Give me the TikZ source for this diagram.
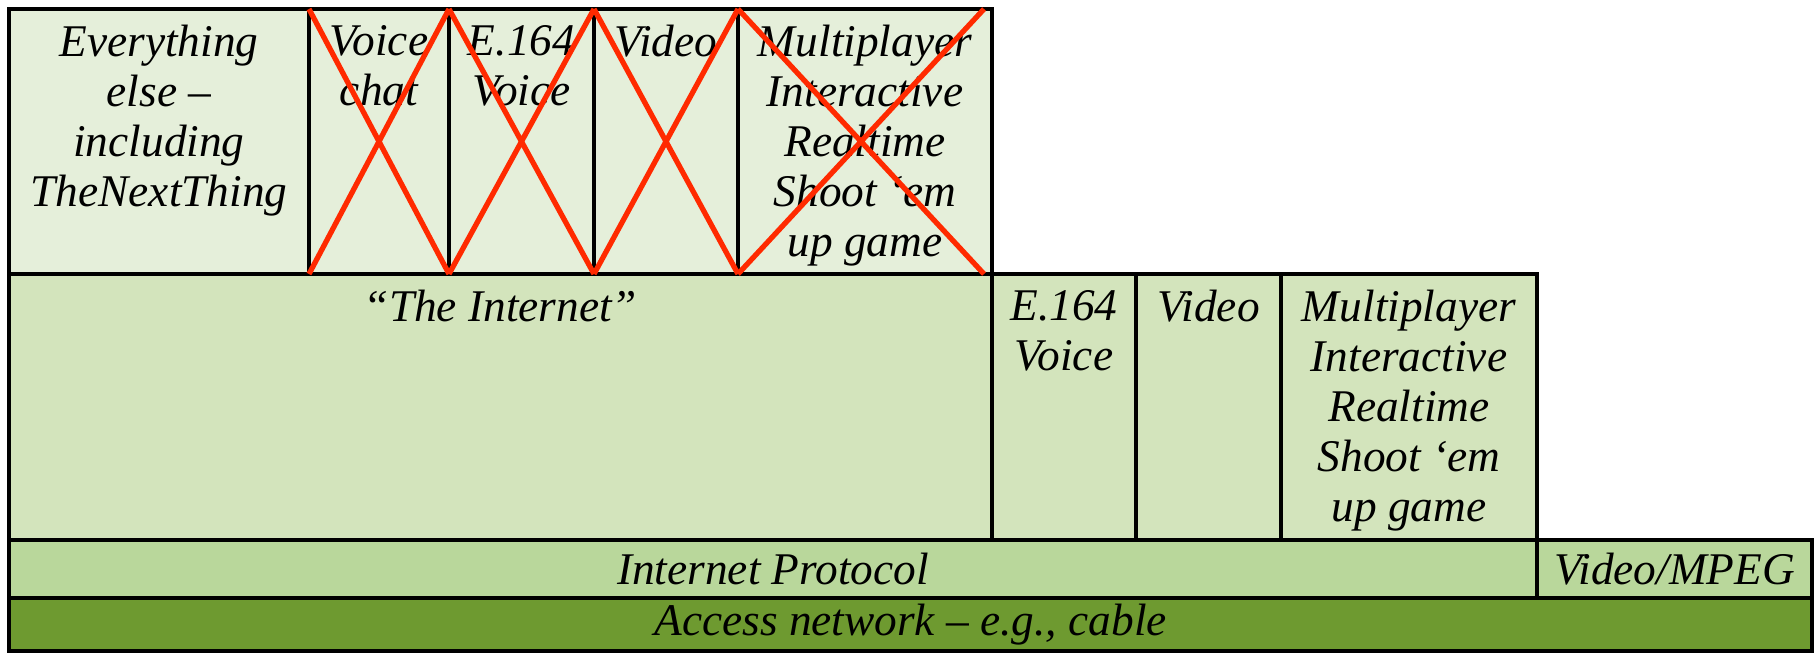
\documentclass[tikz,border=0pt]{standalone}
\usepackage{fontspec}
\setmainfont{Liberation Serif}
\usetikzlibrary{positioning}
\definecolor{rowtop}{HTML}{E5EFDA}
\definecolor{rowmid}{HTML}{D3E4BC}
\definecolor{rowip}{HTML}{B9D79B}
\definecolor{rowacc}{HTML}{6E9A30}
\definecolor{xred}{HTML}{FF2A00}
\newcommand{\cellfont}{\fontsize{12.9}{14.2}\selectfont\itshape}
\tikzset{cell/.style={draw, line width=1pt, outer sep=0pt, inner sep=0pt, font=\cellfont},txt/.style={align=center, inner sep=0pt, font=\cellfont},cross/.style={draw=xred, line width=1.5pt}}

\begin{document}
\begin{tikzpicture}[
   topcell/.style={cell, fill=rowtop, minimum height=26.5mm},
   midcell/.style={cell, fill=rowmid, minimum height=26.6mm}]
  \useasboundingbox (0,0) rectangle (181.6mm,-65.2mm);

  % top row: applications over the Internet
  \node[topcell, minimum width=30mm, anchor=north west] (every) at (0.9mm,-0.9mm) {};
  \node[topcell, minimum width=14mm, right=0pt of every] (vchat) {};
  \node[topcell, minimum width=14.5mm, right=0pt of vchat] (evtop) {};
  \node[topcell, minimum width=14.4mm, right=0pt of evtop] (vidtop) {};
  \node[topcell, minimum width=25.4mm, right=0pt of vidtop] (gametop) {};
  \node[txt, below=4.4pt of every.north] (everyT) {Everything\\ else –\\ including\\ TheNextThing};
  \node[txt, below=4.4pt of vchat.north] (vchatT) {Voice\\ chat};
  \node[txt, below=4.4pt of evtop.north] (evtopT) {E.164\\ Voice};
  \node[txt, below=4.4pt of vidtop.north] (vidtopT) {Video};
  \node[txt, below=4.4pt of gametop.north] (gametopT) {Multiplayer\\ Interactive\\ Realtime\\ Shoot ‘em\\ up game};

  % middle row: the Internet and the walled services
  \node[midcell, minimum width=98.3mm, below=0pt of every.south west, anchor=north west] (inet) {};
  \node[midcell, minimum width=14.4mm, right=0pt of inet] (evmid) {};
  \node[midcell, minimum width=14.5mm, right=0pt of evmid] (vidmid) {};
  \node[midcell, minimum width=25.6mm, right=0pt of vidmid] (gamemid) {};
  \node[txt, below=4.4pt of inet.north] (inetT) {“The Internet”};
  \node[txt, below=4.4pt of evmid.north] (evmidT) {E.164\\ Voice};
  \node[txt, below=4.4pt of vidmid.north] (vidmidT) {Video};
  \node[txt, below=4.4pt of gamemid.north] (gamemidT) {Multiplayer\\ Interactive\\ Realtime\\ Shoot ‘em\\ up game};

  % protocol and access layers
  \node[cell, fill=rowip, minimum width=152.8mm, minimum height=5.8mm, below=0pt of inet.south west, anchor=north west] (ip) {Internet Protocol};
  \node[cell, fill=rowip, minimum width=27.5mm, minimum height=5.8mm, right=0pt of ip] (mpeg) {Video/MPEG};
  \node[cell, fill=rowacc, minimum width=180.3mm, minimum height=5.3mm, below=0pt of ip.south west, anchor=north west] (access) {Access network – e.g., cable};

  % crossed-out applications
  \draw[cross] (vchat.north west) -- (vchat.south east) (vchat.south west) -- (vchat.north east);
  \draw[cross] (evtop.north west) -- (evtop.south east) (evtop.south west) -- (evtop.north east);
  \draw[cross] (vidtop.north west) -- (vidtop.south east) (vidtop.south west) -- (vidtop.north east);
  \draw[cross] (gametop.north west) -- ([xshift=-0.8mm]gametop.south east) (gametop.south west) -- ([xshift=-0.8mm]gametop.north east);
\end{tikzpicture}
\end{document}
